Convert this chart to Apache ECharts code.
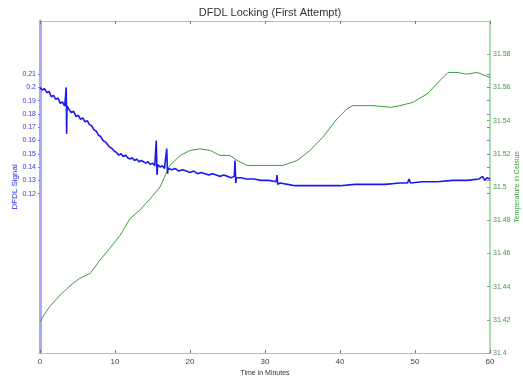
<!DOCTYPE html>
<html>
<head>
<meta charset="utf-8">
<script src="https://cdn.jsdelivr.net/npm/echarts@6/dist/echarts.min.js"></script>
<style>html,body{margin:0;padding:0;background:#fff}#c{width:523px;height:379px}</style>
</head>
<body>
<div id="c"></div>
<script>
// ---- data ----
const titleText = 'DFDL Locking (First Attempt)';
const xName = 'Time in Minutes';
const leftName = 'DFDL Signal';
const rightName = 'Temperature in Celsius';
const leftTicks = [0.12, 0.13, 0.14, 0.15, 0.16, 0.17, 0.18, 0.19, 0.2, 0.21];
const rightTicks = [31.4, 31.42, 31.44, 31.46, 31.48, 31.5, 31.52, 31.54, 31.56, 31.58];
// DFDL signal [minutes, value]
const signalData = [
[0,0.200],[0.3,0.198],[0.6,0.199],[0.9,0.196],[1.2,0.197],[1.5,0.193],[1.8,0.194],[2.1,0.191],[2.4,0.192],[2.7,0.188],
[3.0,0.189],[3.3,0.186],[3.45,0.187],[3.5,0.200],[3.55,0.165],[3.6,0.186],[3.9,0.183],[4.2,0.181],[4.5,0.182],[4.8,0.178],
[5.1,0.179],[5.4,0.176],[5.7,0.177],[6.0,0.174],[6.3,0.175],[6.6,0.172],[6.9,0.171],[7.2,0.168],[7.5,0.167],[7.8,0.164],
[8.1,0.163],[8.4,0.160],[8.7,0.159],[9.0,0.157],[9.3,0.155],[9.6,0.154],[9.9,0.152],[10.2,0.151],[10.5,0.149],[10.8,0.150],
[11.1,0.148],[11.4,0.149],[11.7,0.147],[12.0,0.146],[12.3,0.147],[12.6,0.145],[12.9,0.146],[13.2,0.144],[13.5,0.145],[13.8,0.144],
[14.1,0.143],[14.4,0.144],[14.7,0.142],[15.0,0.143],[15.3,0.141],[15.5,0.160],[15.6,0.134],[15.7,0.142],[16.0,0.140],[16.3,0.141],
[16.6,0.139],[16.8,0.140],[16.9,0.154],[17.0,0.135],[17.1,0.139],[17.6,0.138],[18.0,0.139],[18.5,0.137],[19.0,0.138],[19.5,0.137],
[20.0,0.136],[20.5,0.137],[21.0,0.135],[21.5,0.136],[22.0,0.135],[22.5,0.134],[23.0,0.135],[23.5,0.134],[24.0,0.133],[24.5,0.134],
[25.0,0.133],[25.5,0.132],[25.9,0.133],[26.0,0.145],[26.1,0.128],[26.2,0.132],[26.8,0.132],[27.5,0.131],[28.5,0.131],[29.5,0.130],
[30.5,0.130],[31.5,0.129],[31.6,0.134],[31.7,0.127],[32.0,0.128],[33.0,0.127],[34.0,0.126],[36.0,0.126],[38.0,0.126],[40.0,0.126],
[42.0,0.127],[44.0,0.127],[46.0,0.127],[48.0,0.128],[49.0,0.128],[49.2,0.131],[49.4,0.128],[51.0,0.129],[53.0,0.129],[55.0,0.130],
[57.0,0.130],[58.5,0.131],[59.0,0.133],[59.3,0.130],[59.6,0.132],[60,0.131]
];
// Temperature [minutes, celsius]
const tempData = [
[0,31.419],[0.7,31.424],[1.3,31.428],[2.7,31.435],[4.4,31.442],[5.3,31.445],[6.7,31.448],[8.0,31.456],[9.3,31.463],[10.7,31.471],
[12.0,31.481],[13.3,31.486],[14.7,31.493],[16.0,31.500],[17.3,31.513],[18.7,31.519],[20.0,31.522],[21.3,31.523],[22.7,31.522],[24.0,31.519],
[25.3,31.519],[26.3,31.516],[27.6,31.513],[29.3,31.513],[31.1,31.513],[32.4,31.513],[34.3,31.516],[36.0,31.522],[37.7,31.530],[39.6,31.541],
[40.9,31.547],[41.7,31.549],[44.4,31.549],[46.7,31.548],[48.0,31.549],[49.7,31.551],[51.6,31.556],[53.3,31.564],[54.4,31.569],[55.6,31.569],
[56.9,31.568],[58.3,31.569],[60,31.566]
];

const FONT = 'Liberation Sans';
const BLUE = '#1a1aee';
const GREEN = '#3c9c3c';
const fmt = v => String(+(+v).toFixed(2));

const chart = echarts.init(document.getElementById('c'), null, {renderer: 'canvas'});
chart.setOption({
  animation: false,
  backgroundColor: '#fff',
  title: {
    text: titleText, left: 265, top: 2, textAlign: 'center',
    textStyle: {fontFamily: FONT, fontSize: 11, fontWeight: 'normal', color: '#333'}
  },
  grid: {left: 40, right: 33, top: 21, bottom: 26, containLabel: false, outerBoundsMode: 'none'},
  xAxis: [{
    type: 'value', min: 0, max: 60, interval: 10, position: 'bottom',
    name: xName, nameLocation: 'middle', nameGap: 17, nameMoveOverlap: false,
    nameTextStyle: {fontFamily: FONT, fontSize: 7, color: '#333'},
    axisLine: {onZero: false, lineStyle: {color: '#bbbbbb', width: 1}},
    axisTick: {inside: true, length: 3, lineStyle: {color: '#777'}},
    axisLabel: {fontFamily: FONT, fontSize: 8, color: '#444', margin: 5},
    splitLine: {show: false}
  }, {
    type: 'value', min: 0, max: 60, interval: 10, position: 'top',
    axisLine: {onZero: false, lineStyle: {color: '#bbbbbb', width: 1}},
    axisTick: {inside: true, length: 3, lineStyle: {color: '#777'}},
    axisLabel: {show: false}, splitLine: {show: false}
  }],
  yAxis: [{
    type: 'value', min: 0, max: 0.25, position: 'left',
    name: leftName, nameLocation: 'middle', nameGap: 21, nameMoveOverlap: false,
    nameTextStyle: {fontFamily: FONT, fontSize: 8, color: BLUE},
    axisLine: {show: true, onZero: false, lineStyle: {color: '#a8a8ff', width: 3}},
    axisTick: {show: true, inside: false, length: 2, customValues: leftTicks, lineStyle: {color: '#7777ff'}},
    axisLabel: {fontFamily: FONT, fontSize: 7, color: '#3838f0', margin: 4, customValues: leftTicks, formatter: fmt},
    splitLine: {show: false}
  }, {
    type: 'value', min: 31.4, max: 31.6, interval: 0.02, position: 'right',
    name: rightName, nameLocation: 'middle', nameGap: 24, nameRotate: 90, nameMoveOverlap: false,
    nameTextStyle: {fontFamily: FONT, fontSize: 7, color: GREEN},
    axisLine: {show: true, onZero: false, lineStyle: {color: '#8fd08f', width: 1.5}},
    axisTick: {show: true, inside: true, length: 3, customValues: rightTicks, lineStyle: {color: '#6cbf6c'}},
    axisLabel: {fontFamily: FONT, fontSize: 7, color: GREEN, margin: 3, customValues: rightTicks, formatter: fmt},
    splitLine: {show: false}
  }, {
    type: 'value', min: 0, max: 0.25, position: 'right',
    axisLine: {show: false, onZero: false},
    axisTick: {show: true, inside: true, length: 3, customValues: leftTicks, lineStyle: {color: '#7777ff'}},
    axisLabel: {show: false}, splitLine: {show: false}
  }],
  series: [{
    name: leftName, type: 'line', xAxisIndex: 0, yAxisIndex: 0, data: signalData,
    showSymbol: false, lineStyle: {color: BLUE, width: 1.6}, z: 3
  }, {
    name: rightName, type: 'line', xAxisIndex: 0, yAxisIndex: 1, data: tempData,
    showSymbol: false, lineStyle: {color: GREEN, width: 1}, z: 2
  }]
});
</script>
</body>
</html>
